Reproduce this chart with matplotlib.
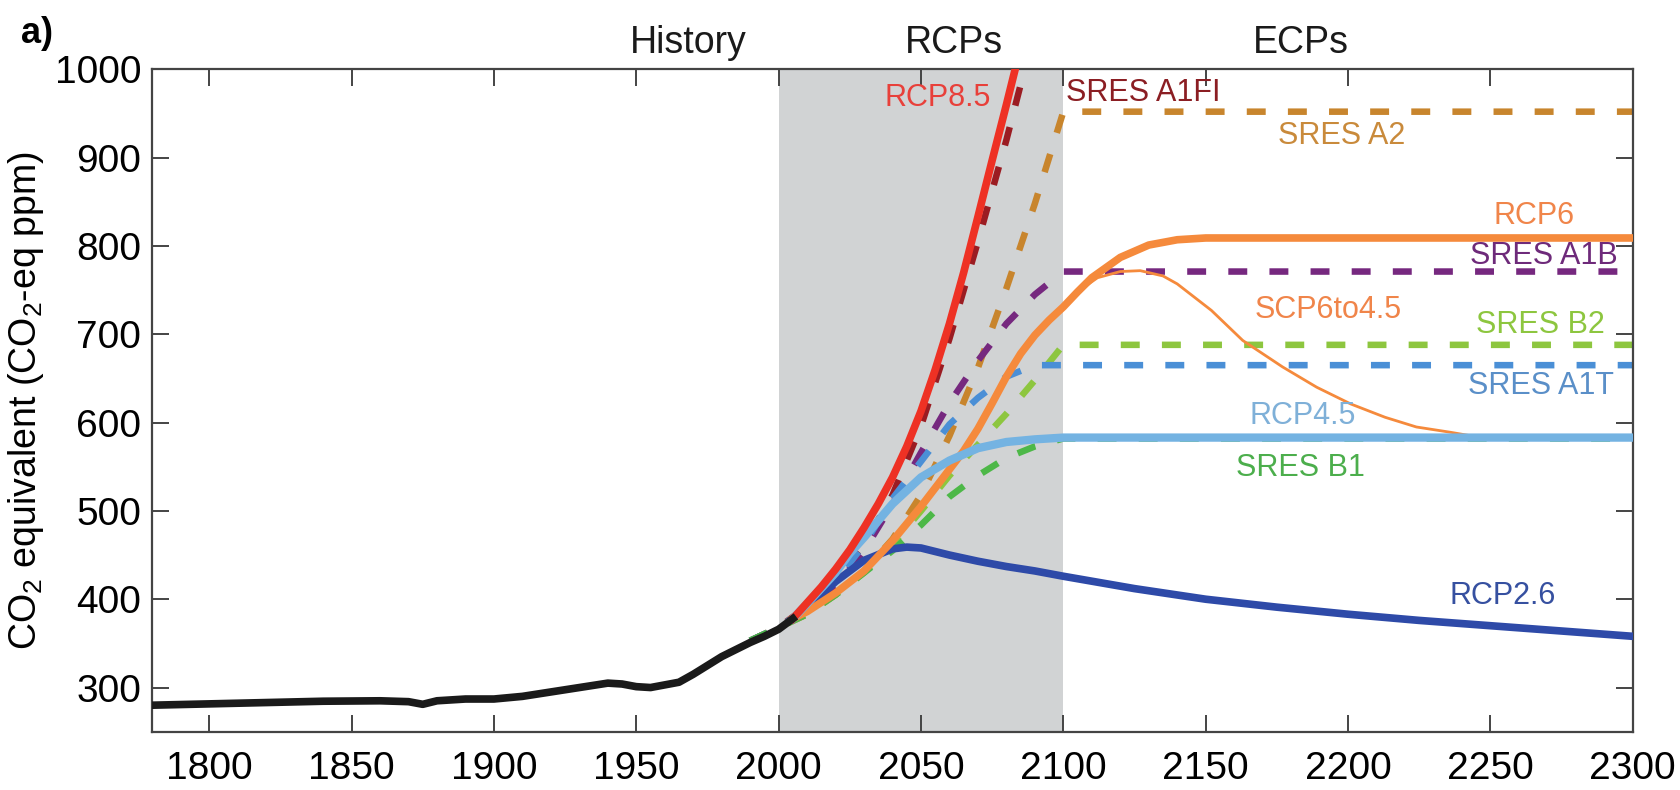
import numpy as np
import matplotlib
matplotlib.use("Agg")
import matplotlib.pyplot as plt
import matplotlib.transforms as mtransforms

plt.rcParams['font.family'] = ['Liberation Sans', 'DejaVu Sans']
plt.rcParams['mathtext.fontset'] = 'custom'
plt.rcParams['mathtext.rm'] = 'Liberation Sans'
plt.rcParams['mathtext.it'] = 'Liberation Sans'

# ---- data ----
hist_year = [1780, 1800, 1820, 1840, 1860, 1870, 1875, 1880, 1890, 1900, 1910, 1920,
             1930, 1940, 1945, 1950, 1955, 1960, 1965, 1970, 1975, 1980, 1985, 1990,
             1995, 2000, 2005]
hist_ppm = [280, 281.5, 283, 284.5, 285, 284, 281, 285, 287, 287, 290, 295,
            300, 305, 304, 301, 300, 303, 306, 315, 325, 335, 343, 351,
            358, 366, 378]

# RCPs / ECPs
rcp85_year = [2005, 2010, 2015, 2020, 2025, 2030, 2035, 2040, 2045, 2050, 2055,
              2060, 2065, 2070, 2075, 2080, 2090, 2100]
rcp85_ppm = [378, 396, 414, 434, 456, 481, 508, 538, 573, 613, 660,
             712, 770, 833, 897, 960, 1090, 1230]

rcp6_year = [2005, 2010, 2020, 2030, 2040, 2050, 2060, 2065, 2070, 2075, 2080, 2085,
             2090, 2095, 2100, 2105, 2110, 2120, 2130, 2140, 2150, 2300]
rcp6_ppm = [378, 386, 407, 432, 466, 505, 547, 568, 593, 622, 652, 678,
            699, 716, 731, 748, 764, 787, 801, 807, 809, 809]

scp_year = [2100, 2105, 2112, 2120, 2127, 2135, 2140, 2152, 2163, 2177, 2189,
            2201, 2213, 2224, 2236, 2245, 2300]
scp_ppm = [731, 748, 764, 771, 772, 766, 757, 727, 693, 663, 640,
           621, 606, 595, 589, 584, 583]

rcp45_year = [2005, 2010, 2020, 2025, 2030, 2040, 2050, 2060, 2070, 2080, 2090, 2100, 2300]
rcp45_ppm = [378, 395, 430, 452, 470, 508, 538, 557, 571, 578, 581, 583, 583]

rcp26_year = [2005, 2010, 2020, 2030, 2040, 2045, 2050, 2060, 2070, 2080, 2090, 2100,
              2125, 2150, 2175, 2200, 2225, 2250, 2275, 2300]
rcp26_ppm = [378, 390, 420, 444, 457, 459, 458, 450, 443, 437, 432, 426,
             412, 400, 391, 383, 376, 370, 364, 358]

# SRES scenarios (held constant after 2100)
sres_year = [1990, 2000, 2010, 2020, 2030, 2040, 2050, 2060, 2070, 2080, 2090, 2100]
a1fi_ppm = [353, 368, 392, 422, 462, 518, 596, 695, 805, 920, 1045, 1180]
a2_ppm = [353, 368, 383, 405, 432, 468, 518, 585, 662, 752, 848, 952]
a1b_ppm = [353, 368, 388, 415, 455, 508, 566, 622, 670, 712, 745, 771]
b2_ppm = [353, 368, 385, 405, 430, 462, 500, 540, 575, 610, 648, 688]
a1t_ppm = [353, 368, 390, 420, 462, 514, 556, 598, 628, 652, 665, 665]
b1_ppm = [353, 368, 383, 405, 430, 455, 484, 516, 540, 560, 573, 582]
ecp_end = 2300

# ---- figure ----
fig = plt.figure(figsize=(16.81, 7.9), dpi=100)
ax = fig.add_axes([0.0906, 0.0738, 0.8807, 0.8385])

ax.axvspan(2000, 2100, color='#d1d3d4', lw=0, zorder=0)

dash = (0, (2.9, 3.4))
sres = [(a1fi_ppm, '#9b1c22'), (a2_ppm, '#c8852d'), (a1b_ppm, '#76287f'),
        (b2_ppm, '#8dc63f'), (a1t_ppm, '#4a8fd6'), (b1_ppm, '#4db848')]
for ppm, col in sres:
    ax.plot(sres_year + [ecp_end], ppm + [ppm[-1]], color=col, lw=4.7,
            ls=dash, zorder=2)

ax.plot(rcp26_year, rcp26_ppm, color='#2e4aa8', lw=5.5, zorder=3)
ax.plot(scp_year, scp_ppm, color='#f58a3c', lw=2.0, zorder=3)
ax.plot(rcp6_year, rcp6_ppm, color='#f58a3c', lw=5.5, zorder=3)
ax.plot(rcp45_year, rcp45_ppm, color='#74b3e2', lw=6, zorder=3)
ax.plot(rcp85_year, rcp85_ppm, color='#ee3124', lw=5.5, zorder=4)
ax.plot(hist_year, hist_ppm, color='#1a1a1a', lw=5.5, zorder=5)

ax.set_xlim(1780, 2300)
ax.set_ylim(250, 1000)
ax.set_xticks(range(1800, 2301, 50))
ax.set_yticks(range(300, 1001, 100))
ax.tick_params(direction='in', length=12, width=1.4, color='#444444',
               labelsize=28, top=True, right=True)
ax.tick_params(axis='x', pad=14)
ax.tick_params(axis='y', pad=8)
for s in ax.spines.values():
    s.set_color('#444444')
    s.set_linewidth(1.6)

ax.set_ylabel(r'CO$_2$ equivalent (CO$_2$-eq ppm)', fontsize=27)
ax.yaxis.set_label_coords(-0.072, 0.5)

# scenario labels
lab = dict(fontsize=22)
ax.text(2074.4, 968, 'RCP8.5', color='#e8403a', ha='right', va='center', **lab)
ax.text(2100.8, 973, 'SRES A1FI', color='#8b1e23', ha='left', va='center', **lab)
ax.text(2220, 925, 'SRES A2', color='#c98a3b', ha='right', va='center', **lab)
ax.text(2279.5, 834, 'RCP6', color='#f0854a', ha='right', va='center', **lab)
ax.text(2294.8, 789, 'SRES A1B', color='#6e2a7a', ha='right', va='center', **lab)
ax.text(2167.2, 728, 'SCP6to4.5', color='#f0854a', ha='left', va='center', **lab)
ax.text(2290, 711, 'SRES B2', color='#8dc63f', ha='right', va='center', **lab)
ax.text(2293.3, 641, 'SRES A1T', color='#5a8fc8', ha='right', va='center', **lab)
ax.text(2184.1, 608, 'RCP4.5', color='#7fb0d8', ha='center', va='center', **lab)
ax.text(2183.3, 549, 'SRES B1', color='#4cae4c', ha='center', va='center', **lab)
ax.text(2273, 404, 'RCP2.6', color='#3650a0', ha='right', va='center', **lab)

# period headers above the axes
trans = mtransforms.blended_transform_factory(ax.transData, ax.transAxes)
for xh, name in [(1968.3, 'History'), (2061.4, 'RCPs'), (2183.4, 'ECPs')]:
    ax.text(xh, 1.04, name, transform=trans, ha='center', va='center',
            fontsize=27, color='#1a1a1a', clip_on=False)

fig.text(0.0125, 0.9576, 'a)', fontsize=26, fontweight='bold', ha='left', va='center')

fig.savefig('out.png', dpi=100)
